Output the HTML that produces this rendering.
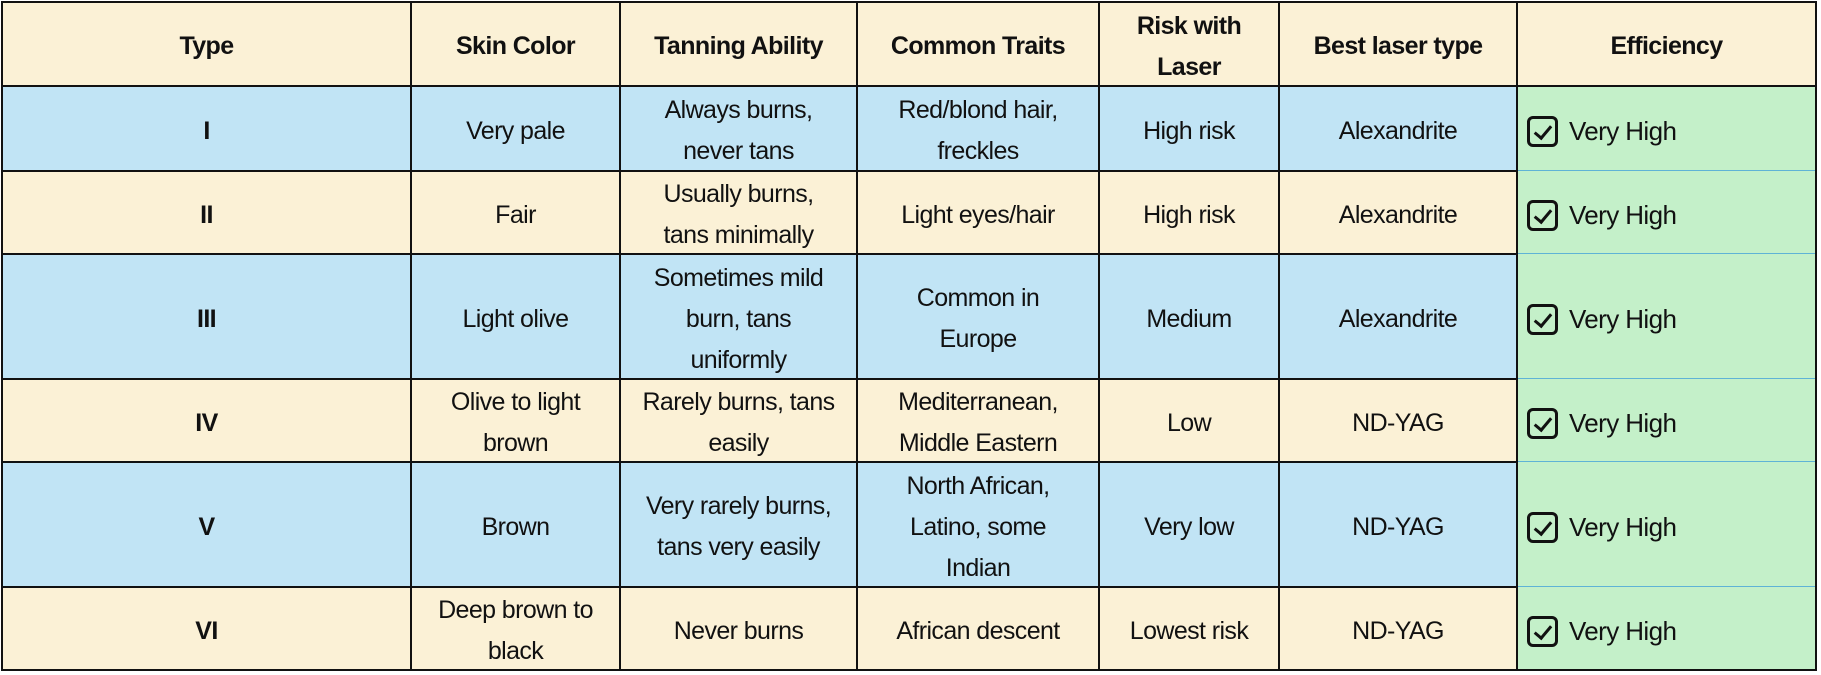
<!DOCTYPE html>
<html><head><meta charset="utf-8"><style>
html,body{margin:0;padding:0;background:#fff;}
#w{position:relative;width:1821px;height:675px;overflow:hidden;font-family:"Liberation Sans",sans-serif;}
.c{position:absolute;box-sizing:border-box;display:flex;align-items:center;justify-content:center;text-align:center;font-size:25px;letter-spacing:-0.6px;line-height:41px;color:#111;padding-top:5px;}
.h{font-weight:bold;}
.v{position:absolute;background:#111;}
.e{justify-content:flex-start;padding-left:10px;font-size:26px;}
.cb{display:inline-block;width:31px;height:31px;border:3px solid #111;border-radius:6px;box-sizing:border-box;margin-right:11px;position:relative;}
.cb:after{content:"";position:absolute;left:8px;top:3px;width:7px;height:14px;border-right:3px solid #111;border-bottom:3px solid #111;transform:rotate(40deg);}
</style></head><body><div id="w">
<div id="cells"></div>
<script>
const xs=[2,411,620,857,1099,1279,1517,1816];
const ys=[2,86,171,254,379,462,587,670];
const rows=[
["Type","Skin Color","Tanning Ability","Common Traits","Risk with<br>Laser","Best laser type","Efficiency"],
["I","Very pale","Always burns,<br>never tans","Red/blond hair,<br>freckles","High risk","Alexandrite"],
["II","Fair","Usually burns,<br>tans minimally","Light eyes/hair","High risk","Alexandrite"],
["III","Light olive","Sometimes mild<br>burn, tans<br>uniformly","Common in<br>Europe","Medium","Alexandrite"],
["IV","Olive to light<br>brown","Rarely burns, tans<br>easily","Mediterranean,<br>Middle Eastern","Low","ND-YAG"],
["V","Brown","Very rarely burns,<br>tans very easily","North African,<br>Latino, some<br>Indian","Very low","ND-YAG"],
["VI","Deep brown to<br>black","Never burns","African descent","Lowest risk","ND-YAG"]];
let h="";
for(let r=0;r<7;r++){
 const bg=r==0?"#fbf1d6":(r%2?"#c1e4f5":"#fbf1d6");
 for(let c=0;c<7;c++){
  let st=`left:${xs[c]}px;top:${ys[r]}px;width:${xs[c+1]-xs[c]}px;height:${ys[r+1]-ys[r]}px;`;
  if(c==6&&r>0){
   h+=`<div class="c e" style="${st}background:#c4f0c9;"><span class="cb"></span>Very High</div>`;
   if(r<6)h+=`<div class="v" style="left:${xs[6]}px;top:${ys[r+1]-1}px;width:${xs[7]-xs[6]}px;height:1px;background:#5fb3d6"></div>`;
  } else {
   h+=`<div class="c${(r==0||c==0)?' h':''}" style="${st}background:${bg};">${rows[r][c]}</div>`;
  }
 }
}
for(let c=0;c<8;c++){h+=`<div class="v" style="left:${xs[c]-1}px;top:${ys[0]-1}px;width:2px;height:${ys[7]-ys[0]+2}px"></div>`;}
for(let r=0;r<8;r++){
 const w=(r==0||r==1||r==7)?xs[7]-xs[0]:xs[6]-xs[0];
 h+=`<div class="v" style="left:${xs[0]-1}px;top:${ys[r]-1}px;width:${w+2}px;height:2px"></div>`;
}
document.getElementById("cells").innerHTML=h;
</script>
</div></body></html>
